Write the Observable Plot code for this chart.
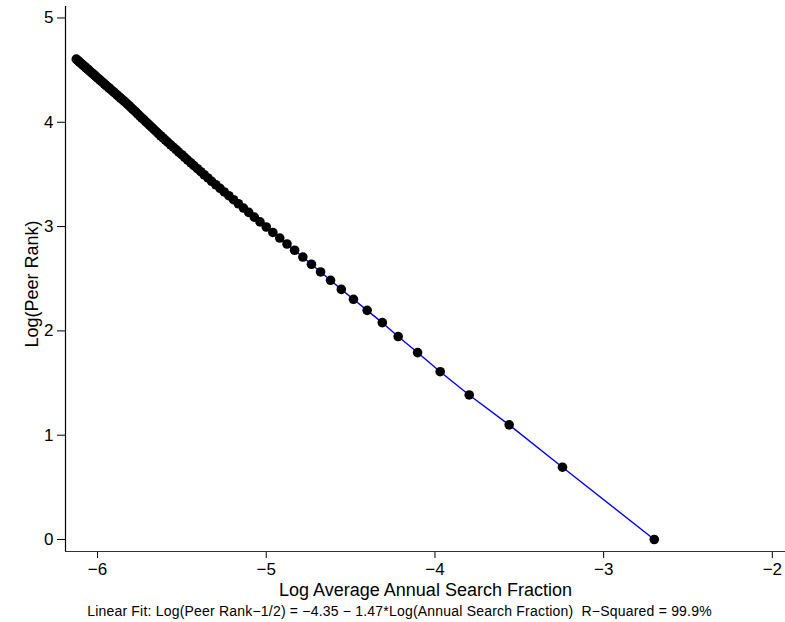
<!DOCTYPE html>
<html>
<head>
<meta charset="utf-8">
<script src="https://cdn.jsdelivr.net/npm/d3@7"></script>
<script src="https://cdn.jsdelivr.net/npm/@observablehq/plot@0.6"></script>
<style>
  body { margin: 0; background: #fff; font-family: "Liberation Sans", Arial, sans-serif; }
  #caption { width: 785px; font-size: 14px; letter-spacing: 0.2px; color: #000; text-align: center; padding-left: 14px; box-sizing: border-box; margin-top: 1px; line-height: 18px; white-space: pre; }
</style>
</head>
<body>
<div id="chart"></div>
<div id="caption"></div>
<script>
// Peer rank 1..100 (for reference)
const peerRank = d3.range(1, 101);
// Log(Peer Rank) values
const logRank = [
  0.000, 0.693, 1.099, 1.386, 1.609, 1.792, 1.946, 2.079, 2.197, 2.303,
  2.398, 2.485, 2.565, 2.639, 2.708, 2.773, 2.833, 2.890, 2.944, 2.996,
  3.045, 3.091, 3.136, 3.178, 3.219, 3.258, 3.296, 3.332, 3.367, 3.401,
  3.434, 3.466, 3.497, 3.526, 3.555, 3.584, 3.611, 3.638, 3.664, 3.689,
  3.714, 3.738, 3.761, 3.784, 3.807, 3.829, 3.850, 3.871, 3.892, 3.912,
  3.932, 3.951, 3.970, 3.989, 4.007, 4.025, 4.043, 4.060, 4.078, 4.094,
  4.111, 4.127, 4.143, 4.159, 4.174, 4.190, 4.205, 4.220, 4.234, 4.249,
  4.263, 4.277, 4.291, 4.304, 4.318, 4.331, 4.344, 4.357, 4.369, 4.382,
  4.394, 4.407, 4.419, 4.431, 4.443, 4.454, 4.466, 4.477, 4.489, 4.500,
  4.511, 4.522, 4.533, 4.543, 4.554, 4.564, 4.575, 4.585, 4.595, 4.605
];
// Log average annual search fraction
const logSearch = [
  -2.700, -3.244, -3.560, -3.797, -3.969, -4.103, -4.218, -4.312, -4.402, -4.483,
  -4.555, -4.619, -4.678, -4.732, -4.783, -4.832, -4.877, -4.920, -4.961, -5.000,
  -5.037, -5.071, -5.104, -5.135, -5.165, -5.194, -5.222, -5.249, -5.274, -5.299,
  -5.324, -5.346, -5.368, -5.388, -5.408, -5.429, -5.447, -5.466, -5.484, -5.501,
  -5.519, -5.535, -5.551, -5.567, -5.583, -5.598, -5.612, -5.626, -5.640, -5.653,
  -5.666, -5.678, -5.691, -5.703, -5.715, -5.726, -5.738, -5.749, -5.761, -5.771,
  -5.782, -5.792, -5.803, -5.813, -5.823, -5.834, -5.844, -5.855, -5.865, -5.875,
  -5.885, -5.895, -5.905, -5.914, -5.924, -5.933, -5.943, -5.952, -5.960, -5.969,
  -5.978, -5.987, -5.996, -6.004, -6.012, -6.020, -6.029, -6.036, -6.045, -6.052,
  -6.060, -6.068, -6.076, -6.083, -6.090, -6.098, -6.105, -6.112, -6.119, -6.126
];
const xTicks = [-6, -5, -4, -3, -2];
const yTicks = [0, 1, 2, 3, 4, 5];
const xTitle = "Log Average Annual Search Fraction";
const yTitle = "Log(Peer Rank)";
const caption = "Linear Fit: Log(Peer Rank\u22121/2) = \u22124.35 \u2212 1.47*Log(Annual Search Fraction)  R\u2212Squared = 99.9%";

const xDomain = [-6.19, -1.922];
const yDomain = [-0.115, 5.11];

const data = logRank.map((y, i) => ({rank: peerRank[i], y, x: logSearch[i]}));
const fmt = d => (d < 0 ? "\u2212" : "") + Math.abs(d);

const chart = Plot.plot({
  width: 785,
  height: 601,
  marginLeft: 65,
  marginRight: 0,
  marginTop: 6,
  marginBottom: 50,
  style: {fontFamily: "'Liberation Sans', Arial, sans-serif", background: "#fff", color: "#000"},
  x: {domain: xDomain, label: null},
  y: {domain: yDomain, label: null},
  marks: [
    Plot.axisX({ticks: xTicks, tickSize: 7, tickPadding: 4, tickFormat: fmt, fontSize: 17, stroke: "#000"}),
    Plot.axisY({ticks: yTicks, tickSize: 8, tickPadding: 4, tickFormat: fmt, fontSize: 17, stroke: "#000"}),
    Plot.ruleY([yDomain[0]], {stroke: "#333", strokeWidth: 1.2}),
    Plot.ruleX([xDomain[0]], {stroke: "#000", strokeWidth: 1.2}),
    Plot.line(data, {x: "x", y: "y", stroke: "#0000ff", strokeWidth: 1.4}),
    Plot.dot(data, {x: "x", y: "y", r: 4.8, fill: "#000", stroke: "none"}),
    Plot.text([xTitle], {frameAnchor: "bottom", dy: 44, fontSize: 18, fill: "#000"}),
    Plot.text([yTitle], {frameAnchor: "left", textAnchor: "middle", rotate: -90, dx: -33, dy: 5, fontSize: 18, fill: "#000"})
  ]
});
document.getElementById("chart").appendChild(chart);
document.getElementById("caption").textContent = caption;
</script>
</body>
</html>
